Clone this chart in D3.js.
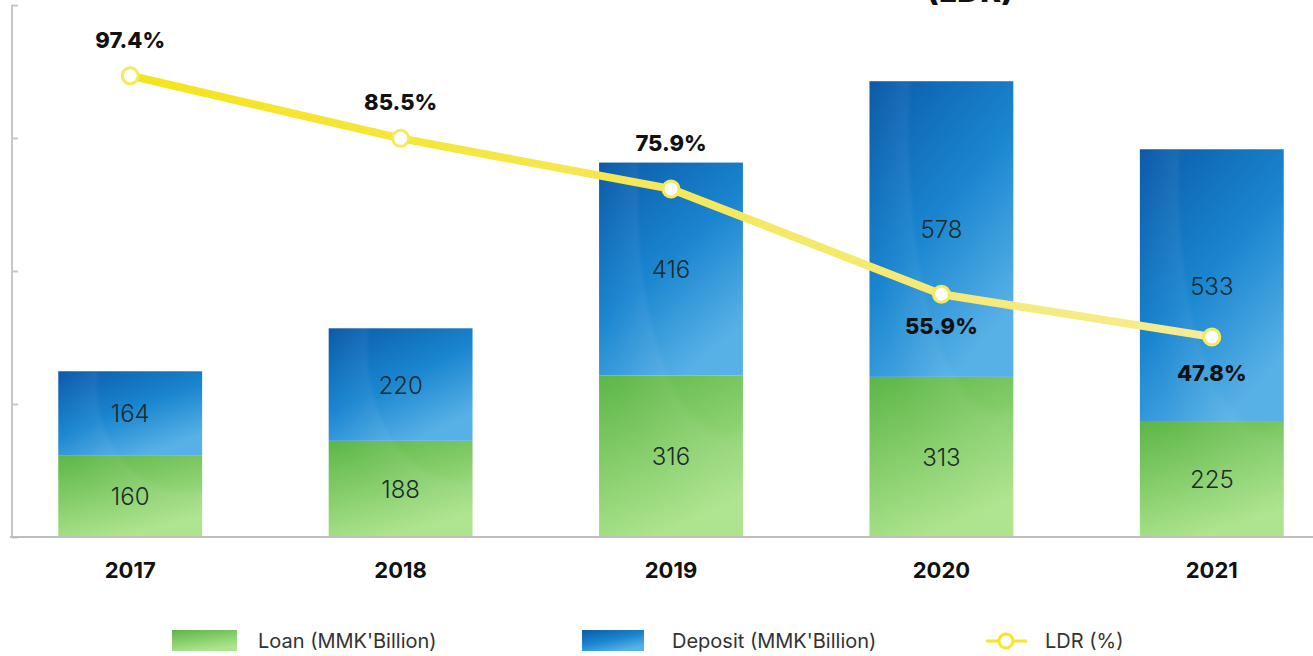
<!DOCTYPE html>
<html>
<head>
<meta charset="utf-8">
<script src="https://cdn.jsdelivr.net/npm/d3@7"></script>
<style>
  html, body { margin: 0; padding: 0; background: #fff; }
  svg { display: block; font-family: Inter, "Noto Sans", sans-serif; }
</style>
</head>
<body>
<svg width="1313" height="656"></svg>
<script>
const years = ['2017', '2018', '2019', '2020', '2021'];
const loans = [160, 188, 316, 313, 225];
const deposits = [164, 220, 416, 578, 533];
const ldr = [97.4, 85.5, 75.9, 55.9, 47.8];
const yMax = 1040;
const yTicks = [0, 260, 520, 780, 1040];

const width = 1313;
const height = 656;
const svg = d3.select('svg');
const defs = svg.append('defs');

// gradients
const gBlue = defs.append('linearGradient').attr('id', 'blue')
  .attr('x1', 0).attr('y1', 0).attr('x2', 0.6).attr('y2', 1);
gBlue.append('stop').attr('offset', '0%').attr('stop-color', '#0b5aa8');
gBlue.append('stop').attr('offset', '55%').attr('stop-color', '#1a86d0');
gBlue.append('stop').attr('offset', '100%').attr('stop-color', '#58b1e6');

const gGreen = defs.append('linearGradient').attr('id', 'green')
  .attr('x1', 0).attr('y1', 0).attr('x2', 0.4).attr('y2', 1);
gGreen.append('stop').attr('offset', '0%').attr('stop-color', '#5cb646');
gGreen.append('stop').attr('offset', '100%').attr('stop-color', '#aee48f');

const gShine = defs.append('radialGradient').attr('id', 'shine')
  .attr('cx', 0.9).attr('cy', 0.1).attr('r', 0.9);
gShine.append('stop').attr('offset', '0%').attr('stop-color', '#fff').attr('stop-opacity', 0.0);
gShine.append('stop').attr('offset', '68%').attr('stop-color', '#fff').attr('stop-opacity', 0.0);
gShine.append('stop').attr('offset', '72%').attr('stop-color', '#fff').attr('stop-opacity', 0.05);
gShine.append('stop').attr('offset', '100%').attr('stop-color', '#fff').attr('stop-opacity', 0.0);

const gLine = defs.append('linearGradient').attr('id', 'lineGrad')
  .attr('gradientUnits', 'userSpaceOnUse')
  .attr('x1', 130).attr('y1', 0).attr('x2', 1211).attr('y2', 0);
gLine.append('stop').attr('offset', '0%').attr('stop-color', '#f5e41a');
gLine.append('stop').attr('offset', '45%').attr('stop-color', '#f5e754');
gLine.append('stop').attr('offset', '100%').attr('stop-color', '#f6ec92');

// scales
const x = d3.scaleBand().domain(years).range([-5, 1347])
  .paddingInner(0.468).paddingOuter(0.234);
const y = d3.scaleLinear().domain([0, yMax]).range([537, 5]);
const yL = d3.scaleLinear().domain([40, 100]).range([378, 62]);

// title (cut off at top, as in the source image)
svg.append('text').attr('x', 970).attr('y', 2)
  .attr('text-anchor', 'middle').attr('font-size', 32).attr('font-weight', 800)
  .attr('fill', '#111').text('(LDR)');

// left axis
const axis = svg.append('g').attr('transform', 'translate(12,0)')
  .call(d3.axisLeft(y).tickValues(yTicks).tickSize(-6).tickFormat(''));
axis.selectAll('path, line').attr('stroke', '#c8c8c8').attr('stroke-width', 2);
axis.select('.domain').attr('d', `M-0,${y(yMax)}V${y(0)}`);

// bars
const data = years.map((yr, i) => ({ yr, loan: loans[i], dep: deposits[i], ldr: ldr[i] }));
const bars = svg.append('g');
bars.selectAll('.loan').data(data).enter().append('rect')
  .attr('x', d => x(d.yr)).attr('width', x.bandwidth())
  .attr('y', d => y(d.loan)).attr('height', d => y(0) - y(d.loan))
  .attr('fill', 'url(#green)');
bars.selectAll('.dep').data(data).enter().append('rect')
  .attr('x', d => x(d.yr)).attr('width', x.bandwidth())
  .attr('y', d => y(d.loan + d.dep)).attr('height', d => y(d.loan) - y(d.loan + d.dep))
  .attr('fill', 'url(#blue)');
bars.selectAll('.shine').data(data).enter().append('rect')
  .attr('x', d => x(d.yr)).attr('width', x.bandwidth())
  .attr('y', d => y(d.loan + d.dep)).attr('height', d => y(0) - y(d.loan + d.dep))
  .attr('fill', 'url(#shine)');

// bar value labels
const lbl = svg.append('g').attr('font-size', 24).attr('font-weight', 300)
  .attr('fill', '#1c2b2b').attr('text-anchor', 'middle');
lbl.selectAll('.lv').data(data).enter().append('text')
  .attr('x', d => x(d.yr) + x.bandwidth() / 2)
  .attr('y', d => (y(0) + y(d.loan)) / 2 + 9)
  .text(d => d.loan);
lbl.selectAll('.dv').data(data).enter().append('text')
  .attr('x', d => x(d.yr) + x.bandwidth() / 2)
  .attr('y', d => (y(d.loan) + y(d.loan + d.dep)) / 2 + 9)
  .text(d => d.dep);

// baseline
svg.append('line').attr('x1', 10).attr('x2', width).attr('y1', y(0)).attr('y2', y(0))
  .attr('stroke', '#bdbdbd').attr('stroke-width', 2);

// year labels
svg.append('g').selectAll('text').data(years).enter().append('text')
  .attr('x', d => x(d) + x.bandwidth() / 2).attr('y', 578)
  .attr('text-anchor', 'middle').attr('font-size', 22).attr('font-weight', 700)
  .attr('fill', '#111').text(d => d);

// LDR line
const cx = d => x(d.yr) + x.bandwidth() / 2;
svg.append('path').datum(data)
  .attr('d', d3.line().x(cx).y(d => yL(d.ldr)))
  .attr('fill', 'none').attr('stroke', 'url(#lineGrad)').attr('stroke-width', 8)
  .attr('stroke-linejoin', 'round').attr('stroke-linecap', 'round');
svg.append('g').selectAll('circle').data(data).enter().append('circle')
  .attr('cx', cx).attr('cy', d => yL(d.ldr)).attr('r', 8)
  .attr('fill', '#fff').attr('stroke', '#f5ea5a').attr('stroke-width', 3);

// LDR labels: first three above the point, last two below
const labelOffset = [-28, -28, -38, 40, 44];
svg.append('g').selectAll('text').data(data).enter().append('text')
  .attr('x', cx)
  .attr('y', (d, i) => yL(d.ldr) + labelOffset[i])
  .attr('text-anchor', 'middle').attr('font-size', 22).attr('font-weight', 800)
  .attr('fill', '#111').text(d => d.ldr.toFixed(1) + '%');

// legend
const leg = svg.append('g').attr('font-size', 20).attr('fill', '#333').attr('font-weight', 400);
leg.append('rect').attr('x', 172).attr('y', 630).attr('width', 65).attr('height', 21).attr('fill', 'url(#green)');
leg.append('text').attr('x', 258).attr('y', 648).text("Loan (MMK'Billion)");
leg.append('rect').attr('x', 582).attr('y', 630).attr('width', 62).attr('height', 21).attr('fill', 'url(#blue)');
leg.append('text').attr('x', 672).attr('y', 648).text("Deposit (MMK'Billion)");
leg.append('line').attr('x1', 986).attr('x2', 1027).attr('y1', 641).attr('y2', 641)
  .attr('stroke', '#f5e62a').attr('stroke-width', 3);
leg.append('circle').attr('cx', 1006).attr('cy', 641).attr('r', 7)
  .attr('fill', '#fff').attr('stroke', '#f5e62a').attr('stroke-width', 3);
leg.append('text').attr('x', 1045).attr('y', 648).text('LDR (%)');
</script>
</body>
</html>
